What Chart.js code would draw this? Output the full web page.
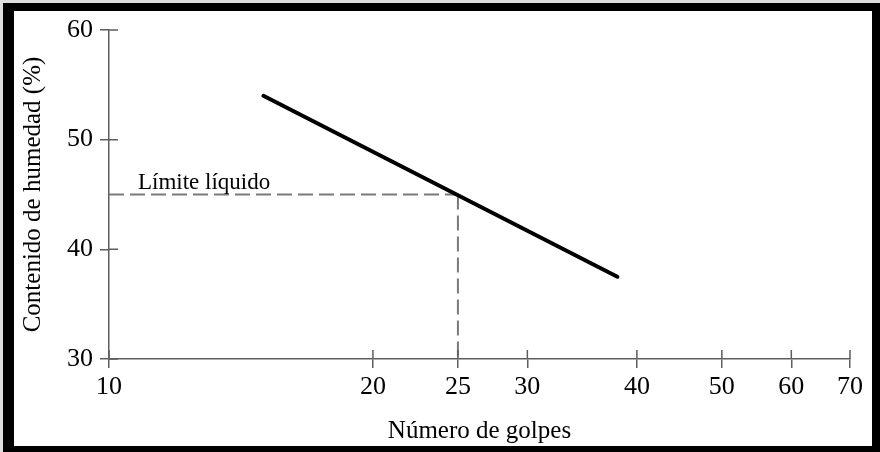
<!DOCTYPE html>
<html>
<head>
<meta charset="utf-8">
<script src="https://cdn.jsdelivr.net/npm/chart.js@4"></script>
<style>
  html, body { margin: 0; padding: 0; background: #dedede; }
  body { width: 880px; height: 452px; position: relative; overflow: hidden; }
  #frame {
    position: absolute; left: 3px; top: 3px; width: 877px; height: 449px;
    box-sizing: border-box; background: #fff;
    border-style: solid; border-color: #000;
    border-width: 8px 8px 6px 11px;
  }
  #chart { position: absolute; left: 0; top: 0; }
</style>
</head>
<body>
<div id="frame"></div>
<canvas id="chart" width="880" height="452"></canvas>
<script>
// curva de fluidez (contenido de humedad vs numero de golpes, escala log)
const flowCurve = [ { x: 15, y: 54 }, { x: 38, y: 37.5 } ];
const limitH = [ { x: 10, y: 45 }, { x: 25, y: 45 } ];
const limitV = [ { x: 25, y: 45 }, { x: 25, y: 30 } ];
const xTicks = [10, 20, 25, 30, 40, 50, 60, 70];
const yTicks = [30, 40, 50, 60];
const limitLabel = 'Límite líquido';

const AXIS = '#5e5e5e';
const SERIF = "'Liberation Serif', 'Times New Roman', serif";

Chart.defaults.font.family = SERIF;
Chart.defaults.color = '#000';

// ticks que cruzan el eje (la mitad interior)
const innerTicks = {
  id: 'innerTicks',
  afterDraw(chart) {
    const { ctx, chartArea } = chart;
    const xs = chart.scales.x, ys = chart.scales.y;
    ctx.save();
    ctx.strokeStyle = AXIS;
    ctx.lineWidth = 1.5;
    ctx.beginPath();
    xTicks.forEach(v => {
      const px = xs.getPixelForValue(v);
      ctx.moveTo(px, chartArea.bottom);
      ctx.lineTo(px, chartArea.bottom - 9);
    });
    yTicks.forEach(v => {
      const py = ys.getPixelForValue(v);
      ctx.moveTo(chartArea.left, py);
      ctx.lineTo(chartArea.left + 9, py);
    });
    ctx.stroke();
    ctx.restore();
  },
};

const limitText = {
  id: 'limitText',
  afterDatasetsDraw(chart) {
    const { ctx } = chart;
    const px = chart.scales.x.getPixelForValue(limitH[0].x);
    const py = chart.scales.y.getPixelForValue(limitH[0].y);
    ctx.save();
    ctx.font = '23px ' + SERIF;
    ctx.fillStyle = '#000';
    ctx.textBaseline = 'alphabetic';
    ctx.fillText(limitLabel, px + 29, py - 6);
    ctx.restore();
  },
};

new Chart(document.getElementById('chart'), {
  type: 'line',
  data: {
    datasets: [
      {
        data: flowCurve,
        borderColor: '#000',
        borderWidth: 4,
        borderCapStyle: 'round',
        pointRadius: 0,
        clip: false,
      },
      {
        data: limitH,
        borderColor: '#7a7a7a',
        borderWidth: 2,
        borderDash: [15, 6],
        pointRadius: 0,
        clip: false,
      },
      {
        data: limitV,
        borderColor: '#7a7a7a',
        borderWidth: 2,
        borderDash: [15, 6],
        pointRadius: 0,
        clip: false,
      },
    ],
  },
  options: {
    responsive: false,
    animation: false,
    devicePixelRatio: 1,
    layout: { padding: { left: 0, right: 30, top: 30, bottom: 0 } },
    plugins: { legend: { display: false }, tooltip: { enabled: false } },
    scales: {
      x: {
        type: 'logarithmic',
        min: 10,
        max: 70,
        afterBuildTicks(scale) { scale.ticks = xTicks.map(v => ({ value: v })); },
        afterFit(scale) { scale.height = 93; },
        grid: { drawOnChartArea: false, drawTicks: true, tickLength: 9, color: AXIS, lineWidth: 1.5 },
        border: { display: true, color: AXIS, width: 1.5 },
        ticks: {
          autoSkip: false, maxRotation: 0, padding: 4,
          font: { size: 26 }, color: '#000',
          callback: v => String(v),
        },
        title: {
          display: true, text: 'Número de golpes',
          font: { size: 25 }, color: '#000',
          padding: { top: 0, bottom: 6 },
        },
      },
      y: {
        min: 30,
        max: 60,
        afterBuildTicks(scale) { scale.ticks = yTicks.map(v => ({ value: v })); },
        afterFit(scale) { scale.width = 109; },
        grid: { drawOnChartArea: false, drawTicks: true, tickLength: 9, color: AXIS, lineWidth: 1.5 },
        border: { display: true, color: AXIS, width: 1.5 },
        ticks: { padding: 7, font: { size: 26 }, color: '#000' },
        title: {
          display: true, text: 'Contenido de humedad (%)',
          font: { size: 25 }, color: '#000',
          padding: { top: 18, bottom: 0 },
        },
      },
    },
  },
  plugins: [innerTicks, limitText],
});
</script>
</body>
</html>
